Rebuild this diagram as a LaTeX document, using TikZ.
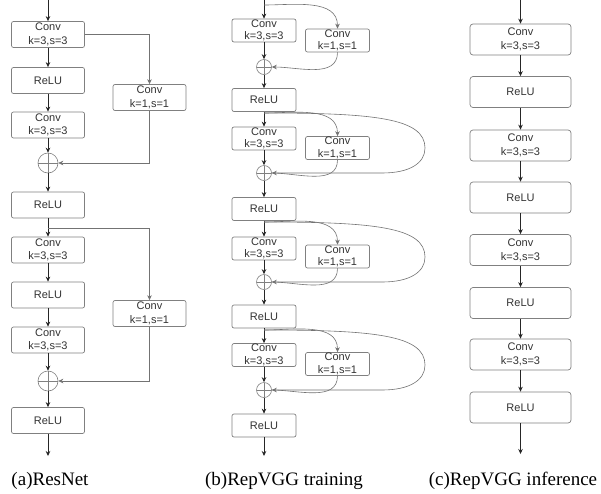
\documentclass[tikz,border=0pt]{standalone}
\usepackage{fontspec}
\setmainfont{Liberation Serif}
\newfontfamily\boxfont{Liberation Sans}
\usetikzlibrary{arrows.meta}
\tikzset{
  arr/.style={-{Stealth[length=5pt,width=4.5pt]}, draw=black!85, line width=0.8pt},
  garr/.style={-{Stealth[length=5pt,width=4.5pt]}, draw=black!55, line width=0.6pt},
  gline/.style={draw=black!55, line width=0.6pt},
  boxa/.style={draw=black!50, rounded corners=2pt, line width=0.7pt, minimum width=73pt, minimum height=26pt, inner sep=0pt, align=center, text=black!80, font=\boxfont\fontsize{11}{13.5}\selectfont},
  boxb/.style={draw=black!50, rounded corners=2pt, line width=0.7pt, minimum width=64pt, minimum height=23pt, inner sep=0pt, align=center, text=black!80, font=\boxfont\fontsize{11}{12.5}\selectfont},
  boxc/.style={draw=black!50, rounded corners=3pt, line width=0.7pt, minimum width=101pt, minimum height=31pt, inner sep=0pt, align=center, text=black!80, font=\boxfont\fontsize{11}{14}\selectfont},
  suma/.style={circle, draw=black!50, line width=0.6pt, minimum size=20pt, inner sep=0pt,
    path picture={\draw[black!50, line width=0.6pt] (path picture bounding box.north) -- (path picture bounding box.south) (path picture bounding box.west) -- (path picture bounding box.east);}},
  sumb/.style={suma, minimum size=15pt},
  captext/.style={font=\fontsize{19}{22}\selectfont, anchor=base}
}
\begin{document}
\begin{tikzpicture}[x=1pt,y=-1pt]
\useasboundingbox[fill=white] (0,0) rectangle (601,493);

% ---------------- (a) ResNet ----------------
\node[boxa] (ac1) at (48,34.5) {Conv\\k=3,s=3};
\node[boxa] (ar1) at (48,80.5) {ReLU};
\node[boxa] (ac2) at (48,125) {Conv\\k=3,s=3};
\node[suma] (as1) at (48,163) {};
\node[boxa] (ar2) at (48,205) {ReLU};
\node[boxa] (ac3) at (48,250) {Conv\\k=3,s=3};
\node[boxa] (ar3) at (48,295) {ReLU};
\node[boxa] (ac4) at (48,340) {Conv\\k=3,s=3};
\node[suma] (as2) at (48,381) {};
\node[boxa] (ar4) at (48,420.5) {ReLU};
\node[boxa] (asc1) at (149.5,97.5) {Conv\\k=1,s=1};
\node[boxa] (asc2) at (149.5,313.5) {Conv\\k=1,s=1};
\coordinate (a0) at (48,0);
\coordinate (ab2) at (48,228);
\coordinate (aend) at (48,456);

\draw[arr] (a0) -- (ac1);
\draw[arr] (ac1) -- (ar1);
\draw[arr] (ar1) -- (ac2);
\draw[arr] (ac2) -- (as1);
\draw[arr] (as1) -- (ar2);
\draw[arr] (ar2) -- (ac3);
\draw[arr] (ac3) -- (ar3);
\draw[arr] (ar3) -- (ac4);
\draw[arr] (ac4) -- (as2);
\draw[arr] (as2) -- (ar4);
\draw[arr] (ar4) -- (aend);
\draw[garr] (ac1.east) -| (asc1.north);
\draw[garr] (asc1.south) |- (as1.east);
\draw[garr] (ab2) -| (asc2.north);
\draw[garr] (asc2.south) |- (as2.east);

% ---------------- (b) RepVGG training ----------------
\node[boxb] (bc1) at (264,30.5) {Conv\\k=3,s=3};
\node[boxb] (bsc1) at (337.5,40.5) {Conv\\k=1,s=1};
\node[sumb] (bs1) at (264,67) {};
\node[boxb] (br1) at (264,100) {ReLU};
\node[boxb] (bc2) at (264,138.5) {Conv\\k=3,s=3};
\node[boxb] (bsc2) at (337.5,148) {Conv\\k=1,s=1};
\node[sumb] (bs2) at (264,173) {};
\node[boxb] (br2) at (264,209) {ReLU};
\node[boxb] (bc3) at (264,248.5) {Conv\\k=3,s=3};
\node[boxb] (bsc3) at (337.5,256.5) {Conv\\k=1,s=1};
\node[sumb] (bs3) at (264,282) {};
\node[boxb] (br3) at (264,316.5) {ReLU};
\node[boxb] (bc4) at (264,355) {Conv\\k=3,s=3};
\node[boxb] (bsc4) at (337.5,364) {Conv\\k=1,s=1};
\node[sumb] (bs4) at (264,390) {};
\node[boxb] (br4) at (264,425.5) {ReLU};
\coordinate (b0) at (264,0);
\coordinate (bb1) at (264,5);
\coordinate (bb2) at (264,113);
\coordinate (bb3) at (264,222);
\coordinate (bb4) at (264,330);
\coordinate (bend) at (264,456);

\draw[arr] (b0) -- (bc1);
\draw[arr] (bc1) -- (bs1);
\draw[arr] (bs1) -- (br1);
\draw[arr] (br1) -- (bc2);
\draw[arr] (bc2) -- (bs2);
\draw[arr] (bs2) -- (br2);
\draw[arr] (br2) -- (bc3);
\draw[arr] (bc3) -- (bs3);
\draw[arr] (bs3) -- (br3);
\draw[arr] (br3) -- (bc4);
\draw[arr] (bc4) -- (bs4);
\draw[arr] (bs4) -- (br4);
\draw[arr] (br4) -- (bend);

\draw[garr] (bb1) to[out=0,in=90] (bsc1.north);
\draw[garr] (bsc1.south) to[out=-90,in=0] (bs1.east);
\foreach \i in {2,3,4}{
  \draw[garr] (bb\i) to[out=0,in=90] (bsc\i.north);
  \draw[gline] (bsc\i.south) to[out=-90,in=0] (bs\i.east);
  \draw[garr] (bb\i) .. controls +(110,0) and +(0,-30) .. ++(161,35)
     .. controls +(0,15) and +(28,0) .. ++(-43,25) -- (bs\i.east);
}

% ---------------- (c) RepVGG inference ----------------
\node[boxc] (cc1) at (520.5,39.5) {Conv\\k=3,s=3};
\node[boxc] (cr1) at (520.5,92) {ReLU};
\node[boxc] (cc2) at (520.5,145.5) {Conv\\k=3,s=3};
\node[boxc] (cr2) at (520.5,197.5) {ReLU};
\node[boxc] (cc3) at (520.5,250) {Conv\\k=3,s=3};
\node[boxc] (cr3) at (520.5,303) {ReLU};
\node[boxc] (cc4) at (520.5,354.5) {Conv\\k=3,s=3};
\node[boxc] (cr4) at (520.5,407.5) {ReLU};
\coordinate (c0) at (520.5,0);
\coordinate (cend) at (520.5,454);
\draw[arr] (c0) -- (cc1);
\draw[arr] (cc1) -- (cr1);
\draw[arr] (cr1) -- (cc2);
\draw[arr] (cc2) -- (cr2);
\draw[arr] (cr2) -- (cc3);
\draw[arr] (cc3) -- (cr3);
\draw[arr] (cr3) -- (cc4);
\draw[arr] (cc4) -- (cr4);
\draw[arr] (cr4) -- (cend);

% ---------------- captions ----------------
\node[captext] (capa) at (50,485) {(a)ResNet};
\node[captext] (capb) at (284,485) {(b)RepVGG training};
\node[captext] (capc) at (513,485) {(c)RepVGG inference};
\end{tikzpicture}
\end{document}
